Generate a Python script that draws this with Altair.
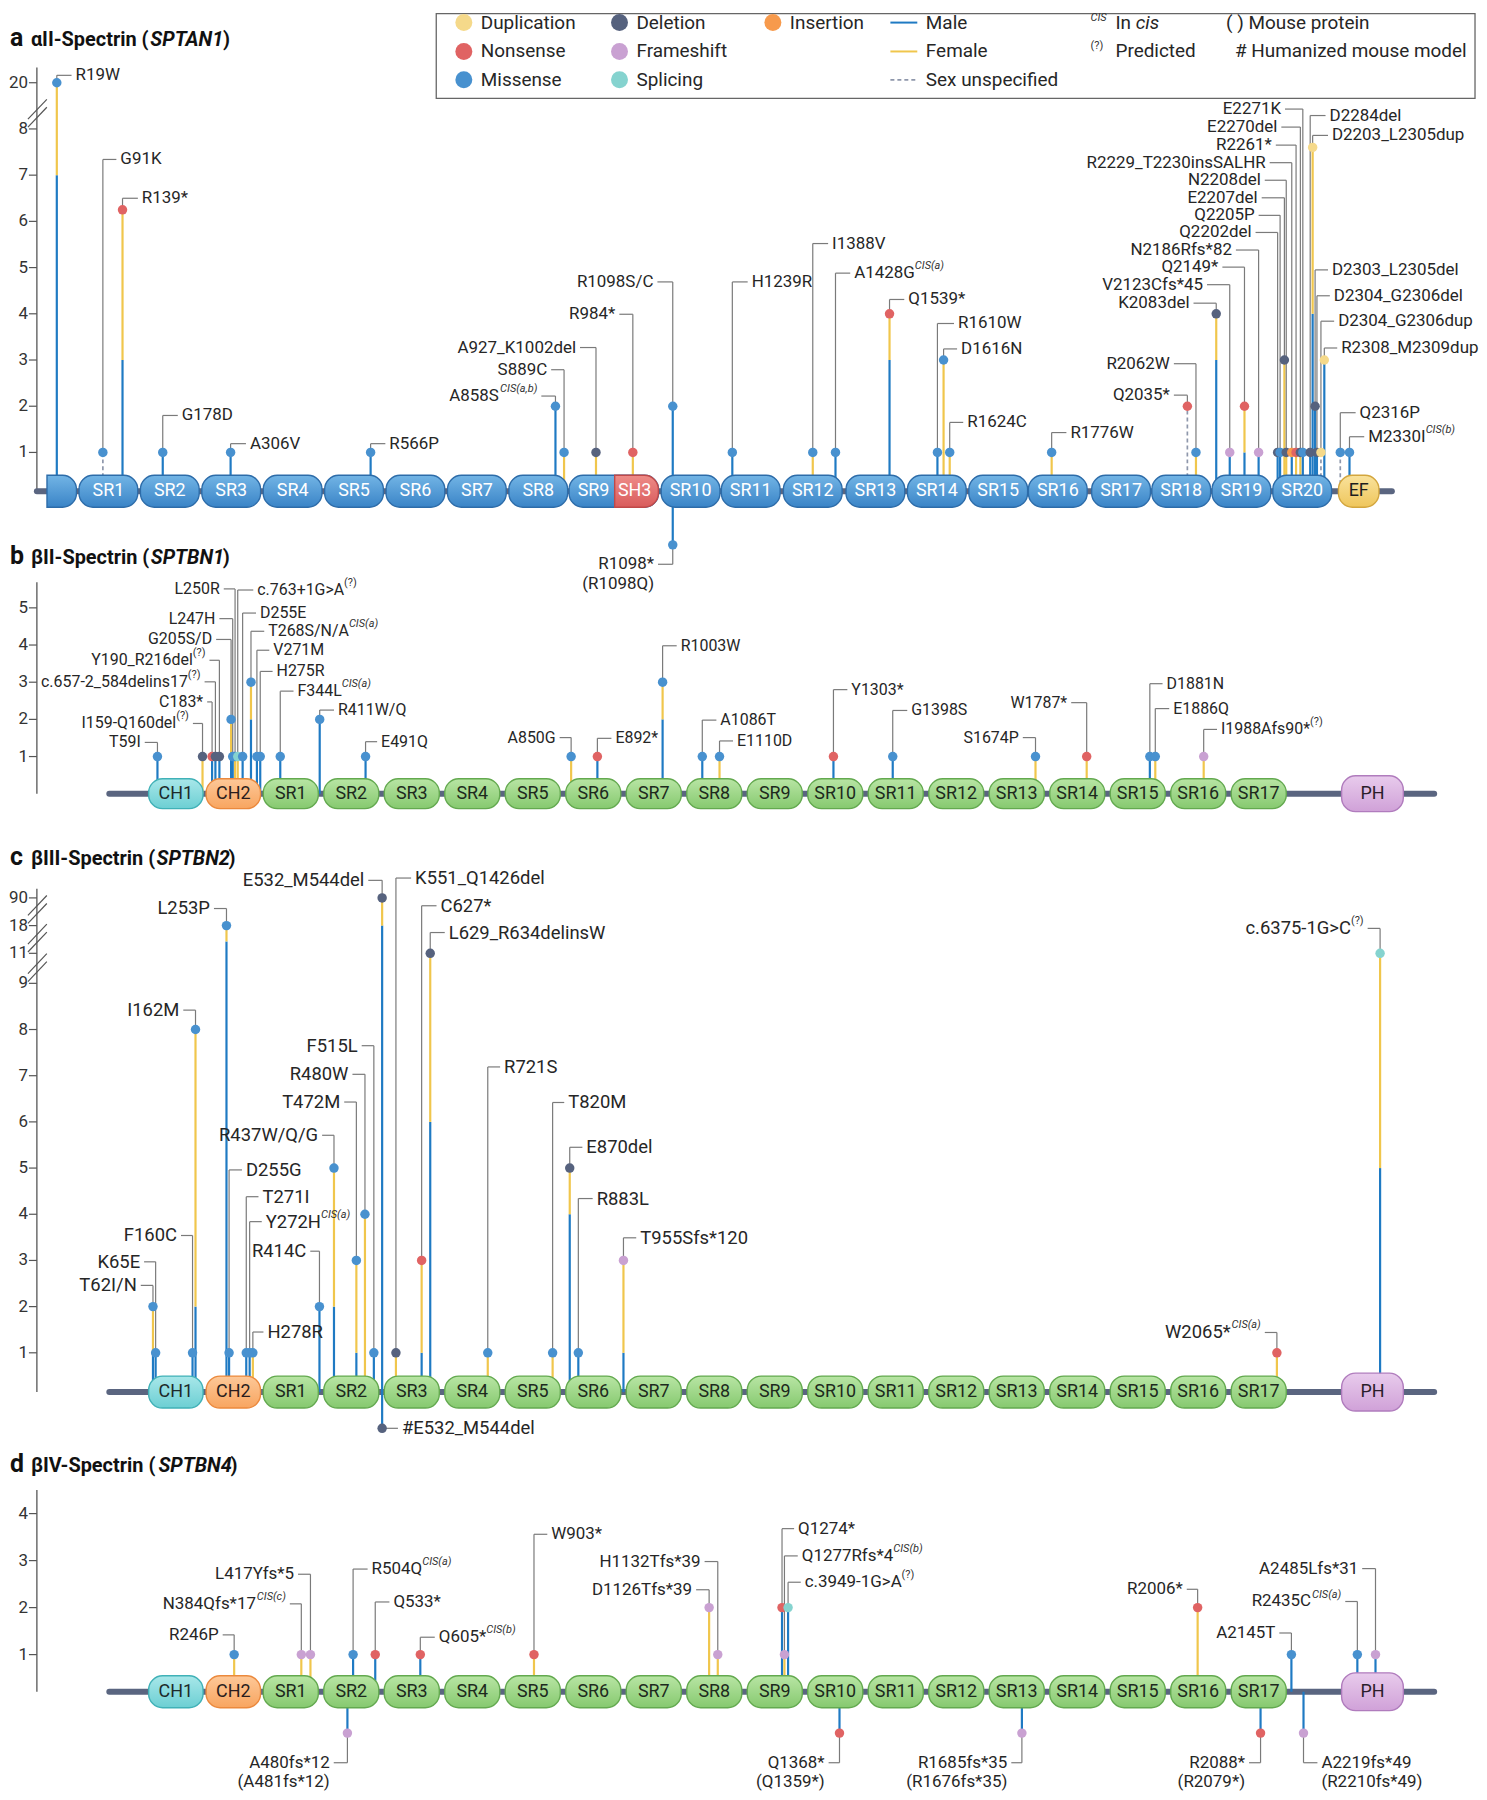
import altair as alt
import numpy as np
import pandas as pd

FONT = "Roboto"
INK = "#262626"
GREY = "#7a7a7a"
TRACK_COLOR = "#5a6580"

TYPE_CODES = {"dup": "Duplication", "del": "Deletion", "ins": "Insertion",
              "non": "Nonsense", "fs": "Frameshift", "mis": "Missense", "spl": "Splicing"}
TYPE_ORDER = ["Duplication", "Deletion", "Insertion", "Nonsense", "Frameshift", "Missense", "Splicing"]
TYPE_COLORS = ["#f5d98a", "#56627e", "#f79a4c", "#e06363", "#c9a1d2", "#4891cf", "#85d3cf"]
SEX_CODES = {"M": "Male", "F": "Female", "U": "Unspecified"}
SEX_ORDER = ["Male", "Female", "Unspecified"]
SEX_COLORS = ["#1f7ac3", "#f0c64c", "#8e97ab"]

# ---------------------------------------------------------------- panel a
# label, x (domain slots), cases, type, sex (M/F/U or number of male cases), label x, label y, superscript, 2nd line
A_MUTATIONS = [
    ("R19W", 0.16, 20, "mis", 7, 0.40, 9.16, "", ""),
    ("G91K", 0.91, 1, "mis", "U", 1.13, 7.34, "", ""),
    ("R139*", 1.23, 6.25, "non", 3, 1.48, 6.50, "", ""),
    ("G178D", 1.885, 1, "mis", "M", 2.13, 1.80, "", ""),
    ("A306V", 2.99, 1, "mis", "M", 3.24, 1.19, "", ""),
    ("R566P", 5.27, 1, "mis", "M", 5.51, 1.19, "", ""),
    ("A858S", 8.28, 2, "mis", "M", 8.05, 2.22, "CIS(a,b)", ""),
    ("S889C", 8.42, 1, "mis", "F", 8.21, 2.79, "", ""),
    ("A927_K1002del", 8.94, 1, "del", "F", 8.68, 3.27, "", ""),
    ("R984*", 9.54, 1, "non", "F", 9.32, 3.99, "", ""),
    ("R1098S/C", 10.19, 2, "mis", "M", 9.94, 4.69, "", ""),
    ("R1098*", 10.19, -1.0, "mis", "M", 9.95, -1.42, "", "(R1098Q)"),
    ("H1239R", 11.16, 1, "mis", "M", 11.41, 4.69, "", ""),
    ("I1388V", 12.47, 1, "mis", "F", 12.72, 5.52, "", ""),
    ("A1428G", 12.84, 1, "mis", "M", 13.08, 4.88, "CIS(a)", ""),
    ("Q1539*", 13.72, 4, "non", 3, 13.96, 4.31, "", ""),
    ("R1610W", 14.50, 1, "mis", "M", 14.77, 3.79, "", ""),
    ("D1616N", 14.60, 3, "mis", "F", 14.82, 3.24, "", ""),
    ("R1624C", 14.70, 1, "mis", "F", 14.92, 1.65, "", ""),
    ("R1776W", 16.36, 1, "mis", "F", 16.60, 1.43, "", ""),
    ("Q2035*", 18.57, 2, "non", "U", 18.35, 2.24, "", ""),
    ("R2062W", 18.71, 1, "mis", "F", 18.35, 2.92, "", ""),
    ("K2083del", 19.04, 4, "del", 3, 18.67, 4.23, "", ""),
    ("V2123Cfs*45", 19.26, 1, "fs", "M", 18.89, 4.63, "", ""),
    ("Q2149*", 19.50, 2, "non", 1, 19.14, 5.01, "", ""),
    ("N2186Rfs*82", 19.73, 1, "fs", "M", 19.36, 5.38, "", ""),
    ("Q2202del", 20.04, 1, "del", "M", 19.68, 5.76, "", ""),
    ("Q2205P", 20.08, 1, "mis", "M", 19.73, 6.13, "", ""),
    ("E2207del", 20.15, 3, "del", "F", 19.78, 6.51, "", ""),
    ("N2208del", 20.18, 1, "del", "F", 19.83, 6.89, "", ""),
    ("R2229_T2230insSALHR", 20.27, 1, "ins", "M", 19.91, 7.27, "", ""),
    ("R2261*", 20.34, 1, "non", "F", 20.01, 7.65, "", ""),
    ("E2270del", 20.41, 1, "del", "F", 20.10, 8.04, "", ""),
    ("E2271K", 20.45, 1, "mis", "M", 20.16, 8.43, "", ""),
    ("D2284del", 20.57, 1, "del", "M", 20.82, 8.29, "", ""),
    ("D2203_L2305dup", 20.61, 7.6, "dup", 4, 20.86, 7.86, "", ""),
    ("D2303_L2305del", 20.65, 2, "del", "M", 20.86, 4.95, "", ""),
    ("D2304_G2306del", 20.68, 1, "del", "M", 20.89, 4.39, "", ""),
    ("D2304_G2306dup", 20.745, 1, "dup", "U", 20.96, 3.84, "", ""),
    ("R2308_M2309dup", 20.80, 3, "dup", "M", 21.01, 3.26, "", ""),
    ("Q2316P", 21.06, 1, "mis", "U", 21.31, 1.86, "", ""),
    ("M2330I", 21.21, 1, "mis", "M", 21.45, 1.34, "CIS(b)", ""),
]
# name, centre, width, kind, label x
A_DOMAINS = [
    ("", 0.24, 0.48, "nterm", 0.24),
    ("SR1", 1.0, 0.957, "sr_blue", 1.0), ("SR2", 2.0, 0.957, "sr_blue", 2.0),
    ("SR3", 3.0, 0.957, "sr_blue", 3.0), ("SR4", 4.0, 0.957, "sr_blue", 4.0),
    ("SR5", 5.0, 0.957, "sr_blue", 5.0), ("SR6", 6.0, 0.957, "sr_blue", 6.0),
    ("SR7", 7.0, 0.957, "sr_blue", 7.0), ("SR8", 8.0, 0.957, "sr_blue", 8.0),
    ("SR9", 9.23, 1.457, "sr_blue", 8.90), ("SH3", 9.60, 0.711, "sh3", 9.57),
    ("SR10", 10.48, 0.957, "sr_blue", 10.48), ("SR11", 11.46, 0.957, "sr_blue", 11.46),
    ("SR12", 12.47, 0.957, "sr_blue", 12.47), ("SR13", 13.49, 0.957, "sr_blue", 13.49),
    ("SR14", 14.49, 0.957, "sr_blue", 14.49), ("SR15", 15.49, 0.957, "sr_blue", 15.49),
    ("SR16", 16.46, 0.957, "sr_blue", 16.46), ("SR17", 17.49, 0.957, "sr_blue", 17.49),
    ("SR18", 18.47, 0.957, "sr_blue", 18.47), ("SR19", 19.45, 0.957, "sr_blue", 19.45),
    ("SR20", 20.44, 0.957, "sr_blue", 20.44), ("EF", 21.36, 0.66, "ef", 21.36),
]

# ---------------------------------------------------------------- panels b-d domains
BETA_DOMAINS = [
    ("CH1", 1.10, 0.90, "ch1", 1.10), ("CH2", 2.05, 0.90, "ch2", 2.05),
    ("SR1", 3, 0.91, "sr_green", 3), ("SR2", 4, 0.91, "sr_green", 4),
    ("SR3", 5, 0.91, "sr_green", 5), ("SR4", 6, 0.91, "sr_green", 6),
    ("SR5", 7, 0.91, "sr_green", 7), ("SR6", 8, 0.91, "sr_green", 8),
    ("SR7", 9, 0.91, "sr_green", 9), ("SR8", 10, 0.91, "sr_green", 10),
    ("SR9", 11, 0.91, "sr_green", 11), ("SR10", 12, 0.91, "sr_green", 12),
    ("SR11", 13, 0.91, "sr_green", 13), ("SR12", 14, 0.91, "sr_green", 14),
    ("SR13", 15, 0.91, "sr_green", 15), ("SR14", 16, 0.91, "sr_green", 16),
    ("SR15", 17, 0.91, "sr_green", 17), ("SR16", 18, 0.91, "sr_green", 18),
    ("SR17", 19, 0.91, "sr_green", 19), ("PH", 20.88, 1.02, "ph", 20.88),
]

B_MUTATIONS = [
    ("T59I", 0.796, 1, "mis", "M", 0.586, 1.38, "", ""),
    ("I159-Q160del", 1.541, 1, "del", "F", 1.382, 1.89, "(?)", ""),
    ("C183*", 1.699, 1, "non", "M", 1.618, 2.47, "", ""),
    ("c.657-2_584delins17", 1.754, 1, "del", "M", 1.575, 3.01, "(?)", ""),
    ("Y190_R216del", 1.82, 1, "del", "M", 1.656, 3.59, "(?)", ""),
    ("G205S/D", 2.013, 2, "mis", 1, 1.766, 4.15, "", ""),
    ("L247H", 2.04, 1, "mis", "M", 1.82, 4.71, "", ""),
    ("L250R", 2.079, 1, "mis", "F", 1.892, 5.51, "", ""),
    ("c.763+1G>A", 2.123, 1, "spl", "F", 2.38, 5.48, "(?)", ""),
    ("D255E", 2.204, 1, "mis", "M", 2.425, 4.86, "", ""),
    ("T268S/N/A", 2.342, 3, "mis", 2, 2.561, 4.37, "CIS(a)", ""),
    ("V271M", 2.44, 1, "mis", "M", 2.645, 3.86, "", ""),
    ("H275R", 2.495, 1, "mis", "M", 2.699, 3.29, "", ""),
    ("F344L", 2.826, 1, "mis", "M", 3.045, 2.76, "CIS(a)", ""),
    ("R411W/Q", 3.478, 2, "mis", "M", 3.715, 2.25, "", ""),
    ("E491Q", 4.236, 1, "mis", "M", 4.427, 1.40, "", ""),
    ("A850G", 7.634, 1, "mis", "F", 7.444, 1.51, "", ""),
    ("E892*", 8.068, 1, "non", "M", 8.30, 1.49, "", ""),
    ("R1003W", 9.146, 3, "mis", 2, 9.379, 3.98, "", ""),
    ("A1086T", 9.802, 1, "mis", "M", 10.035, 1.98, "", ""),
    ("E1110D", 10.087, 1, "mis", "F", 10.31, 1.42, "", ""),
    ("Y1303*", 11.97, 1, "non", "M", 12.20, 2.80, "", ""),
    ("G1398S", 12.95, 1, "mis", "M", 13.19, 2.24, "", ""),
    ("S1674P", 15.31, 1, "mis", "F", 15.10, 1.51, "", ""),
    ("W1787*", 16.156, 1, "non", "F", 15.90, 2.45, "", ""),
    ("D1881N", 17.20, 1, "mis", "M", 17.41, 2.96, "", ""),
    ("E1886Q", 17.29, 1, "mis", "F", 17.52, 2.29, "", ""),
    ("I1988Afs90*", 18.09, 1, "fs", "F", 18.31, 1.73, "(?)", ""),
]

C_MUTATIONS = [
    ("T62I/N", 0.722, 2, "mis", 1, 0.52, 2.46, "", ""),
    ("K65E", 0.766, 1, "mis", "M", 0.575, 2.97, "", ""),
    ("F160C", 1.376, 1, "mis", "M", 1.185, 3.54, "", ""),
    ("I162M", 1.425, 8, "mis", 2, 1.223, 8.42, "", ""),
    ("L253P", 1.937, 18, "mis", 14, 1.73, 10.62, "", ""),
    ("D255G", 1.98, 1, "mis", "M", 2.193, 4.96, "", ""),
    ("T271I", 2.264, 1, "mis", "M", 2.466, 4.38, "", ""),
    ("Y272H", 2.32, 1, "mis", "M", 2.52, 3.84, "CIS(a)", ""),
    ("H278R", 2.373, 1, "mis", "F", 2.548, 1.45, "", ""),
    ("R414C", 3.474, 2, "mis", "M", 3.322, 3.20, "", ""),
    ("R437W/Q/G", 3.714, 5, "mis", 2, 3.518, 5.71, "", ""),
    ("T472M", 4.084, 3, "mis", 1, 3.883, 6.43, "", ""),
    ("R480W", 4.226, 4, "mis", "F", 4.019, 7.03, "", ""),
    ("F515L", 4.373, 1, "mis", "M", 4.172, 7.65, "", ""),
    ("E532_M544del", 4.51, 90, "del", 18, 4.281, 11.23, "", ""),
    ("#E532_M544del", 4.51, -0.635, "del", "M", 4.771, -0.635, "", ""),
    ("K551_Q1426del", 4.738, 1, "del", "F", 4.989, 11.28, "", ""),
    ("C627*", 5.163, 3, "non", 1, 5.409, 10.68, "", ""),
    ("L629_R634delinsW", 5.305, 11, "del", 6, 5.545, 10.10, "", ""),
    ("R721S", 6.256, 1, "mis", "F", 6.46, 7.19, "", ""),
    ("T820M", 7.328, 1, "mis", "F", 7.52, 6.42, "", ""),
    ("E870del", 7.611, 5, "del", 4, 7.82, 5.45, "", ""),
    ("R883L", 7.753, 1, "mis", "M", 7.99, 4.34, "", ""),
    ("T955Sfs*120", 8.499, 3, "fs", 1, 8.71, 3.49, "", ""),
    ("W2065*", 19.30, 1, "non", "F", 19.10, 1.44, "CIS(a)", ""),
    ("c.6375-1G>C", 21.006, 11, "spl", 5, 20.80, 10.19, "(?)", ""),
]

D_MUTATIONS = [
    ("R246P", 2.064, 1, "mis", "F", 1.874, 1.42, "", ""),
    ("N384Qfs*17", 3.174, 1, "fs", "F", 2.984, 2.08, "CIS(c)", ""),
    ("L417Yfs*5", 3.325, 1, "fs", "F", 3.12, 2.71, "", ""),
    ("R504Q", 4.03, 1, "mis", "M", 4.27, 2.82, "CIS(a)", ""),
    ("Q533*", 4.396, 1, "non", "M", 4.63, 2.12, "", ""),
    ("A480fs*12", 3.936, -0.67, "fs", "M", 3.71, -1.30, "", "(A481fs*12)"),
    ("Q605*", 5.141, 1, "non", "M", 5.38, 1.37, "CIS(b)", ""),
    ("W903*", 7.02, 1, "non", "F", 7.24, 3.56, "", ""),
    ("D1126Tfs*39", 9.915, 2, "fs", "F", 9.70, 2.38, "", ""),
    ("H1132Tfs*39", 10.058, 1, "fs", "F", 9.84, 2.98, "", ""),
    ("Q1274*", 11.12, 2, "non", "M", 11.32, 3.68, "", ""),
    ("Q1277Rfs*4", 11.16, 1, "fs", "F", 11.38, 3.10, "CIS(b)", ""),
    ("c.3949-1G>A", 11.22, 2, "spl", "M", 11.43, 2.54, "(?)", ""),
    ("Q1368*", 12.07, -0.67, "non", "M", 11.89, -1.30, "", "(Q1359*)"),
    ("R1685fs*35", 15.085, -0.67, "fs", "M", 14.91, -1.30, "", "(R1676fs*35)"),
    ("R2006*", 17.99, 2, "non", "F", 17.81, 2.39, "", ""),
    ("R2088*", 19.03, -0.67, "non", "M", 18.84, -1.30, "", "(R2079*)"),
    ("A2145T", 19.54, 1, "mis", "M", 19.34, 1.46, "", ""),
    ("A2219fs*49", 19.74, -0.67, "fs", "M", 19.97, -1.30, "", "(R2210fs*49)"),
    ("R2435C", 20.63, 1, "mis", "M", 20.43, 2.13, "CIS(a)", ""),
    ("A2485Lfs*31", 20.93, 1, "fs", "M", 20.71, 2.83, "", ""),
]

# axis breaks: case counts -> drawn height
A_KNOTS = ([0, 8, 20], [0, 8, 9])
C_KNOTS = ([0, 9, 11, 18, 90], [0, 9, 9.65, 10.25, 10.85])
ID_KNOTS = ([0, 100], [0, 100])

# tick positions (drawn height) and their labels
A_TICKS = [1, 2, 3, 4, 5, 6, 7, 8, 9]
A_TICK_LABELS = ["1", "2", "3", "4", "5", "6", "7", "8", "20"]
B_TICKS = [1, 2, 3, 4, 5]
B_TICK_LABELS = ["1", "2", "3", "4", "5"]
C_TICKS = [1, 2, 3, 4, 5, 6, 7, 8, 9, 9.65, 10.25, 10.85]
C_TICK_LABELS = ["1", "2", "3", "4", "5", "6", "7", "8", "9", "11", "18", "90"]
D_TICKS = [1, 2, 3, 4]
D_TICK_LABELS = ["1", "2", "3", "4"]

# legend
LEGEND_TYPES = [("Duplication", 0, 0), ("Nonsense", 0, 1), ("Missense", 0, 2),
                ("Deletion", 1, 0), ("Frameshift", 1, 1), ("Splicing", 1, 2),
                ("Insertion", 2, 0)]
LEGEND_SEX = [("Male", 0), ("Female", 1), ("Sex unspecified", 2)]

DOMAIN_STYLE = {
    "sr_blue": ("#72b4e5", "#3a84c7", "#2d6ca9", "all", "#ffffff"),
    "nterm": ("#72b4e5", "#3a84c7", "#2d6ca9", "right", "#ffffff"),
    "sh3": ("#ee8b87", "#d95c5c", "#c04949", "right", "#ffffff"),
    "ef": ("#f9e29c", "#efc65c", "#d3a63e", "all", "#1e1e1e"),
    "sr_green": ("#b8e5a4", "#86c96f", "#63a94f", "all", "#1d2a1d"),
    "ch1": ("#a8e7e9", "#6ccfd3", "#40b1b7", "all", "#1d2a2a"),
    "ch2": ("#fdc898", "#f8a560", "#eb893d", "all", "#2a1d1d"),
    "ph": ("#e8cbec", "#d0a1d8", "#b07cbd", "all", "#2a1d2a"),
}

CHAR_W = {
    **{d: 0.562 for d in "0123456789"},
    "A": .652, "B": .622, "C": .652, "D": .655, "E": .568, "F": .553, "G": .681, "H": .713,
    "I": .272, "J": .552, "K": .627, "L": .539, "M": .873, "N": .713, "O": .688, "P": .631,
    "Q": .688, "R": .616, "S": .593, "T": .597, "U": .648, "V": .636, "W": .887, "X": .627,
    "Y": .601, "Z": .599, "a": .544, "b": .561, "c": .523, "d": .564, "e": .53, "f": .347,
    "g": .561, "h": .551, "i": .243, "j": .239, "k": .507, "l": .243, "m": .876, "n": .552,
    "o": .57, "p": .561, "q": .568, "r": .338, "s": .516, "t": .327, "u": .551, "v": .484,
    "w": .751, "x": .496, "y": .473, "z": .496, "*": .431, "_": .451, "-": .276, ".": .263,
    "/": .412, "(": .342, ")": .348, ">": .508, "+": .567, "#": .616, " ": .248, ",": .196,
    "?": .473, "α": .58, "β": .6,
}


def text_w(s, size, factor=1.0):
    return sum(CHAR_W.get(ch, 0.56) for ch in s) * size * factor


def disp(v, knots):
    if v <= 0:
        return float(v)
    return float(np.interp(v, knots[0], knots[1]))


def grad(c1, c2):
    return alt.LinearGradient(gradient="linear",
                              stops=[alt.GradientStop(color=c1, offset=0),
                                     alt.GradientStop(color=c2, offset=1)],
                              x1=0, x2=0, y1=0, y2=1)


def build_panel(cfg):
    T = cfg["track"]
    knots = cfg["knots"]
    pps, ppu = cfg["pps"], cfg["ppu"]
    fs = cfg["font"]
    xs = alt.Scale(domain=cfg["xdom"], nice=False, zero=False)
    ys = alt.Scale(domain=cfg["ydom"], nice=False, zero=False)

    def X(f):
        return alt.X(f"{f}:Q", scale=xs, axis=None)

    def Y(f):
        return alt.Y(f"{f}:Q", scale=ys, axis=None)

    layers = []
    # ---- y axis (line, ticks, labels)
    adf = pd.DataFrame({"top": [cfg["axis_top"]], "bot": [T]})
    layers.append(alt.Chart(adf).mark_rule(color="#555", strokeWidth=1.3).encode(
        x=alt.value(0), y=Y("top"), y2="bot:Q"))
    tk = pd.DataFrame({"v": cfg["ticks"], "lab": cfg["tick_labels"]})
    layers.append(alt.Chart(tk).mark_rule(color="#555", strokeWidth=1.2).encode(
        x=alt.value(-8), x2=alt.value(0), y=Y("v")))
    layers.append(alt.Chart(tk).mark_text(font=FONT, fontSize=17, color="#333", align="right",
                                          baseline="middle").encode(
        x=alt.value(-9), y=Y("v"), text="lab:N"))
    if cfg["breaks"]:
        rows = []
        for c in cfg["breaks"]:
            for off in (-4.0, 4.0):
                rows.append({"yl": c - 10 / ppu + off / ppu, "yr": c + 10 / ppu + off / ppu})
        layers.append(alt.Chart(pd.DataFrame(rows)).mark_rule(color="#555", strokeWidth=1.2).encode(
            x=alt.value(-9), x2=alt.value(10), y=Y("yl"), y2="yr:Q"))

    # ---- track
    tdf = pd.DataFrame({"x0": [cfg["track_x"][0]], "x1": [cfg["track_x"][1]], "y": [T]})
    layers.append(alt.Chart(tdf).mark_rule(color=TRACK_COLOR, strokeWidth=6, strokeCap="round").encode(
        x=X("x0"), x2="x1:Q", y=Y("y")))

    # ---- build mutation tables
    dots, stems, vcon, hcon, labs, sups, l2 = [], [], [], [], [], [], []
    for (lab, x, cnt, typ, sex, lx, ly, sup, line2) in cfg["muts"]:
        yd = disp(cnt, knots)
        dots.append({"x": x, "y": yd, "type": TYPE_CODES[typ]})
        if sex in SEX_CODES:
            stems.append({"x": x, "y0": T, "y1": yd, "sex": SEX_CODES[sex]})
        else:
            sd = disp(sex, knots)
            stems.append({"x": x, "y0": T, "y1": sd, "sex": "Male"})
            stems.append({"x": x, "y0": sd, "y1": yd, "sex": "Female"})
        vcon.append({"x": x, "y0": yd, "y1": ly})
        hcon.append({"x0": x, "x1": lx, "y": ly})
        side = "L" if lx < x else "R"
        mw = text_w(lab, fs) / pps
        sw = text_w(sup, 11) / pps
        ital = sup.startswith("CIS")
        if side == "R":
            labs.append({"x": lx, "y": ly, "t": lab, "side": side})
            if sup:
                sups.append({"x": lx + mw, "y": ly, "t": sup, "side": side, "it": ital})
        else:
            labs.append({"x": lx - sw, "y": ly, "t": lab, "side": side})
            if sup:
                sups.append({"x": lx, "y": ly, "t": sup, "side": side, "it": ital})
        if line2:
            l2.append({"x": lx, "y": ly, "t": line2, "side": side})

    sdf = pd.DataFrame(stems)
    solid = sdf[sdf.sex != "Unspecified"]
    dashed = sdf[sdf.sex == "Unspecified"]
    layers.append(alt.Chart(solid).mark_rule(strokeWidth=2.2).encode(
        x=X("x"), y=Y("y0"), y2="y1:Q",
        stroke=alt.Stroke("sex:N", scale=alt.Scale(domain=SEX_ORDER, range=SEX_COLORS), legend=None)))
    if len(dashed):
        layers.append(alt.Chart(dashed).mark_rule(strokeWidth=1.7, strokeDash=[4, 3],
                                                  color=SEX_COLORS[2]).encode(
            x=X("x"), y=Y("y0"), y2="y1:Q"))

    # ---- domains
    h = cfg["dom_h"] / ppu
    drows = []
    for (name, c, w, kind, lxp) in cfg["domains"]:
        extra = (3 / ppu) if kind == "ph" else 0
        drows.append({"name": name, "x0": c - w / 2, "x1": c + w / 2, "y0": T - h - extra,
                      "y1": T + h + extra, "kind": kind, "lx": lxp,
                      "tc": DOMAIN_STYLE[kind][4]})
    ddf = pd.DataFrame(drows)
    for kind in ["nterm", "sr_blue", "sh3", "ef", "ch1", "ch2", "sr_green", "ph"]:
        sub = ddf[ddf.kind == kind]
        if not len(sub):
            continue
        top, bot, stroke, rmode, _ = DOMAIN_STYLE[kind]
        if rmode == "all":
            mk = dict(cornerRadius=14)
        else:
            mk = dict(cornerRadiusTopRight=14, cornerRadiusBottomRight=14)
        layers.append(alt.Chart(sub).mark_rect(fill=grad(top, bot), stroke=stroke,
                                               strokeWidth=1.4, **mk).encode(
            x=X("x0"), x2="x1:Q", y=Y("y0"), y2="y1:Q"))
    lab_dom = ddf[ddf.name != ""].copy()
    lab_dom["ym"] = T
    layers.append(alt.Chart(lab_dom).mark_text(font=FONT, fontSize=18, align="center",
                                               baseline="middle").encode(
        x=X("lx"), y=Y("ym"), text="name:N", color=alt.Color("tc:N", scale=None)))

    # ---- connectors
    layers.append(alt.Chart(pd.DataFrame(vcon)).mark_rule(color=GREY, strokeWidth=1.2).encode(
        x=X("x"), y=Y("y0"), y2="y1:Q"))
    layers.append(alt.Chart(pd.DataFrame(hcon)).mark_rule(color=GREY, strokeWidth=1.2).encode(
        x=X("x0"), x2="x1:Q", y=Y("y")))

    # ---- dots
    layers.append(alt.Chart(pd.DataFrame(dots)).mark_circle(size=90, opacity=1, strokeWidth=0).encode(
        x=X("x"), y=Y("y"),
        fill=alt.Fill("type:N", scale=alt.Scale(domain=TYPE_ORDER, range=TYPE_COLORS), legend=None)))

    # ---- labels
    ldf = pd.DataFrame(labs)
    for side, align, dx in (("R", "left", 4), ("L", "right", -4)):
        sub = ldf[ldf.side == side]
        if len(sub):
            layers.append(alt.Chart(sub).mark_text(font=FONT, fontSize=fs, color=INK, align=align,
                                                   baseline="middle", dx=dx).encode(
                x=X("x"), y=Y("y"), text="t:N"))
    if sups:
        supdf = pd.DataFrame(sups)
        for side, align, dx in (("R", "left", 4), ("L", "right", -4)):
            for it in (True, False):
                sub = supdf[(supdf.side == side) & (supdf.it == it)]
                if len(sub):
                    layers.append(alt.Chart(sub).mark_text(
                        font=FONT, fontSize=11, color="#333", align=align, baseline="middle",
                        dx=dx, dy=-7, fontStyle="italic" if it else "normal").encode(
                        x=X("x"), y=Y("y"), text="t:N"))
    if l2:
        l2df = pd.DataFrame(l2)
        for side, align, dx in (("R", "left", 4), ("L", "right", -4)):
            sub = l2df[l2df.side == side]
            if len(sub):
                layers.append(alt.Chart(sub).mark_text(font=FONT, fontSize=fs, color=INK,
                                                       align=align, baseline="middle", dx=dx,
                                                       dy=cfg["line2_dy"]).encode(
                    x=X("x"), y=Y("y"), text="t:N"))

    # ---- title
    letter, name, gene = cfg["title"]
    tdf2 = pd.DataFrame({"y": [cfg["title_y"]]})
    w_name = text_w(name, 20, 1.06)
    w_gene = text_w(gene, 20, 1.0)
    common = dict(font=FONT, fontWeight="bold", color="#111", align="left",
                  baseline="alphabetic", dy=7)
    layers.append(alt.Chart(tdf2).mark_text(text=letter, fontSize=25, **common).encode(
        x=alt.value(-27), y=Y("y")))
    layers.append(alt.Chart(tdf2).mark_text(text=name, fontSize=20, **common).encode(
        x=alt.value(-6), y=Y("y")))
    layers.append(alt.Chart(tdf2).mark_text(text=gene, fontSize=20, fontStyle="italic",
                                            **common).encode(
        x=alt.value(-6 + w_name), y=Y("y")))
    layers.append(alt.Chart(tdf2).mark_text(text=")", fontSize=20, **common).encode(
        x=alt.value(-6 + w_name + w_gene - 2), y=Y("y")))

    return alt.layer(*layers)


def build_legend():
    col_x = [428.7, 585.0, 739.0]
    row_y = [10.0, 39.0, 67.5]
    fsz = 19
    px = lambda f: alt.X(f"{f}:Q", scale=None, axis=None)
    py = lambda f: alt.Y(f"{f}:Q", scale=None, axis=None)
    box = pd.DataFrame({"x0": [401], "x1": [1444], "y0": [1], "y1": [86]})
    layers = [alt.Chart(box).mark_rect(fill="white", stroke="#666", strokeWidth=1.3).encode(
        x=px("x0"), x2="x1:Q", y=py("y0"), y2="y1:Q")]
    sym = pd.DataFrame([{"x": col_x[c], "y": row_y[r], "type": n, "tx": col_x[c] + 17}
                        for (n, c, r) in LEGEND_TYPES])
    layers.append(alt.Chart(sym).mark_circle(size=290, opacity=1, strokeWidth=0).encode(
        x=px("x"), y=py("y"),
        fill=alt.Fill("type:N", scale=alt.Scale(domain=TYPE_ORDER, range=TYPE_COLORS), legend=None)))
    texts = [{"x": r["tx"], "y": r["y"], "t": r["type"]} for _, r in sym.iterrows()]
    lines = []
    for (n, r) in LEGEND_SEX:
        texts.append({"x": 892.6, "y": row_y[r], "t": n})
        lines.append({"x0": 857, "x1": 884, "y": row_y[r], "sex": SEX_ORDER[r]})
    texts += [{"x": 1083, "y": row_y[0], "t": "In"}, {"x": 1083, "y": row_y[1], "t": "Predicted"},
              {"x": 1194, "y": row_y[0], "t": "( ) Mouse protein"},
              {"x": 1203, "y": row_y[1], "t": "# Humanized mouse model"}]
    ldf = pd.DataFrame(lines)
    layers.append(alt.Chart(ldf[ldf.sex != "Unspecified"]).mark_rule(strokeWidth=2).encode(
        x=px("x0"), x2="x1:Q", y=py("y"),
        stroke=alt.Stroke("sex:N", scale=alt.Scale(domain=SEX_ORDER, range=SEX_COLORS), legend=None)))
    layers.append(alt.Chart(ldf[ldf.sex == "Unspecified"]).mark_rule(
        strokeWidth=1.7, strokeDash=[4, 3], color=SEX_COLORS[2]).encode(
        x=px("x0"), x2="x1:Q", y=py("y")))
    layers.append(alt.Chart(pd.DataFrame(texts)).mark_text(
        font=FONT, fontSize=fsz, color=INK, align="left", baseline="middle").encode(
        x=px("x"), y=py("y"), text="t:N"))
    it = pd.DataFrame([{"x": 1083 + text_w("In ", fsz), "y": row_y[0], "t": "cis"}])
    layers.append(alt.Chart(it).mark_text(font=FONT, fontSize=fsz, fontStyle="italic", color=INK,
                                          align="left", baseline="middle").encode(
        x=px("x"), y=py("y"), text="t:N"))
    sm = pd.DataFrame([{"x": 1058, "y": row_y[0], "t": "CIS", "it": True},
                       {"x": 1058, "y": row_y[1], "t": "(?)", "it": False}])
    layers.append(alt.Chart(sm[sm.it]).mark_text(font=FONT, fontSize=11, fontStyle="italic",
                                                 color="#333", align="left", baseline="middle",
                                                 dy=-5).encode(
        x=px("x"), y=py("y"), text="t:N"))
    layers.append(alt.Chart(sm[~sm.it]).mark_text(font=FONT, fontSize=11, color="#333",
                                                  align="left", baseline="middle", dy=-5).encode(
        x=px("x"), y=py("y"), text="t:N"))
    return alt.layer(*layers)


W = 1444
CFG_A = dict(muts=A_MUTATIONS, domains=A_DOMAINS, knots=A_KNOTS, track=0.16,
             xdom=[-0.1645, 23.254], ydom=[-0.948, 10.517], height=532, pps=61.66, ppu=46.4,
             track_x=[-0.1645, 21.9], axis_top=9.33, ticks=A_TICKS, tick_labels=A_TICK_LABELS,
             breaks=[8.34], dom_h=16, font=17, line2_dy=20,
             title=("a", "αII-Spectrin (", "SPTAN1"), title_y=9.95)
CFG_B = dict(muts=B_MUTATIONS, domains=BETA_DOMAINS, knots=ID_KNOTS, track=0.0,
             xdom=[-1.197, 22.575], ydom=[-1.412, 6.759], height=305, pps=60.745, ppu=37.33,
             track_x=[0.0, 21.9], axis_top=5.69, ticks=B_TICKS, tick_labels=B_TICK_LABELS,
             breaks=[], dom_h=15, font=16, line2_dy=19,
             title=("b", "βII-Spectrin (", "SPTBN1"), title_y=6.36)
CFG_C = dict(muts=C_MUTATIONS, domains=BETA_DOMAINS, knots=C_KNOTS, track=0.15,
             xdom=[-1.197, 22.575], ydom=[-1.121, 11.969], height=607, pps=60.745, ppu=46.37,
             track_x=[0.0, 21.9], axis_top=11.05, ticks=C_TICKS, tick_labels=C_TICK_LABELS,
             breaks=[9.34, 9.98, 10.6], dom_h=16, font=18.5, line2_dy=20,
             title=("c", "βIII-Spectrin (", "SPTBN2"), title_y=11.71)
CFG_D = dict(muts=D_MUTATIONS, domains=BETA_DOMAINS, knots=ID_KNOTS, track=0.21,
             xdom=[-1.197, 22.575], ydom=[-1.867, 5.337], height=340, pps=60.745, ppu=47.2,
             track_x=[0.0, 21.9], axis_top=4.5, ticks=D_TICKS, tick_labels=D_TICK_LABELS,
             breaks=[], dom_h=16, font=17, line2_dy=19,
             title=("d", "βIV-Spectrin (", "SPTBN4"), title_y=5.04)

pa = alt.layer(build_panel(CFG_A), build_legend()).resolve_scale(
    x="independent", y="independent").properties(width=W, height=CFG_A["height"])
pb = build_panel(CFG_B).properties(width=W, height=CFG_B["height"])
pc = build_panel(CFG_C).properties(width=W, height=CFG_C["height"])
pd_ = build_panel(CFG_D).properties(width=W, height=CFG_D["height"])

chart = alt.vconcat(pa, pb, pc, pd_, spacing=0, bounds="flush").properties(
    padding=0).configure_view(strokeWidth=0)

chart.save("out.html", embed_options={"renderer": "svg", "actions": False})
